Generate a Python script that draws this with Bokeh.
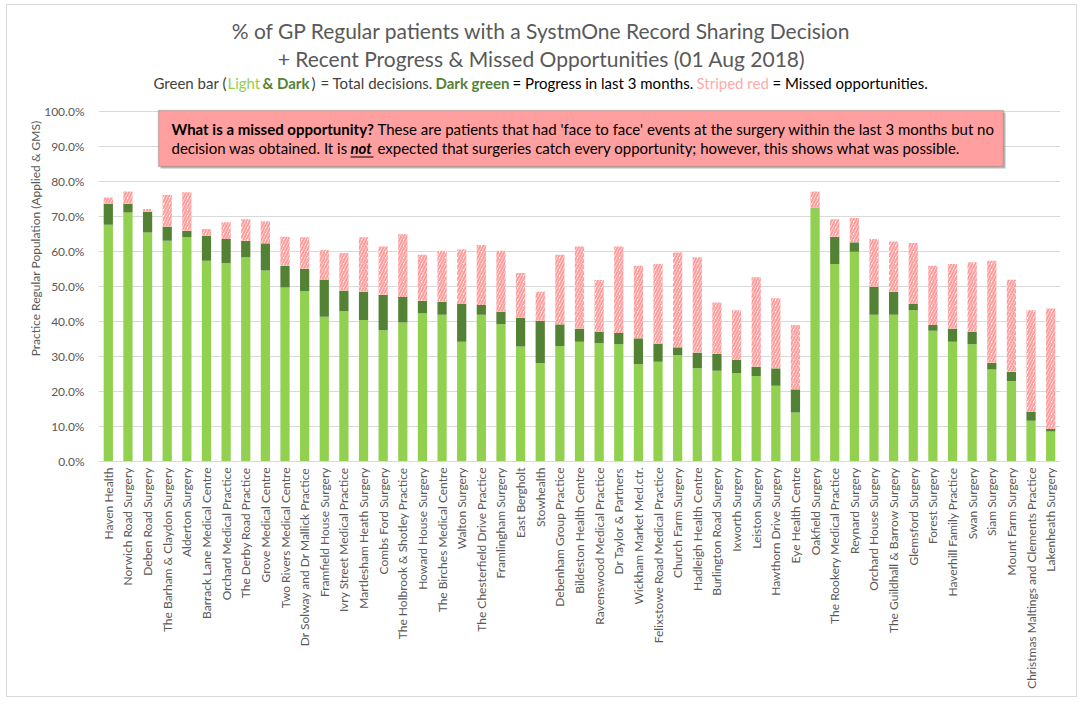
import math
import numpy as np
from bokeh.plotting import figure
from bokeh.models import (Label, BoxAnnotation, Range1d, FactorRange,
                          NumeralTickFormatter, FixedTicker, ColumnDataSource)
from bokeh.embed import file_html
from bokeh.resources import INLINE

# ---------------- data (percent of practice regular population) ----------------
practices = [
    "Haven Health", "Norwich Road Surgery", "Deben Road Surgery",
    "The Barham & Claydon Surgery", "Alderton Surgery", "Barrack Lane Medical Centre",
    "Orchard Medical Practice", "The Derby Road Practice", "Grove Medical Centre",
    "Two Rivers Medical Centre", "Dr Solway and Dr Mallick Practice",
    "Framfield House Surgery", "Ivry Street Medical Practice", "Martlesham Heath Surgery",
    "Combs Ford Surgery", "The Holbrook & Shotley Practice", "Howard House Surgery",
    "The Birches Medical Centre", "Walton Surgery", "The Chesterfield Drive Practice",
    "Framlingham Surgery", "East Bergholt", "Stowhealth", "Debenham Group Practice",
    "Bildeston Health Centre", "Ravenswood Medical Practice", "Dr Taylor & Partners",
    "Wickham Market Med.ctr.", "Felixstowe Road Medical Practice", "Church Farm Surgery",
    "Hadleigh Health Centre", "Burlington Road Surgery", "Ixworth Surgery",
    "Leiston Surgery", "Hawthorn Drive Surgery", "Eye Health Centre", "Oakfield Surgery",
    "The Rookery Medical Practice", "Reynard Surgery", "Orchard House Surgery",
    "The Guildhall & Barrow Surgery", "Glemsford Surgery", "Forest Surgery",
    "Haverhill Family Practice", "Swan Surgery", "Siam Surgery", "Mount Farm Surgery",
    "Christmas Maltings and Clements Practice", "Lakenheath Surgery",
]

# decisions obtained before the last 3 months (light green)
earlier_decisions = [
    67.6, 71.1, 65.4, 63.0, 64.0, 57.3, 56.7, 58.3, 54.5, 49.7, 48.6, 41.3, 42.9,
    40.4, 37.5, 39.7, 42.3, 41.9, 34.2, 41.9, 39.2, 32.8, 28.1, 33.0, 34.2, 33.8,
    33.5, 27.8, 28.5, 30.4, 26.6, 25.9, 25.3, 24.4, 21.6, 14.0, 72.3, 56.4, 59.9,
    41.9, 41.9, 43.2, 37.3, 34.2, 33.5, 26.3, 23.0, 11.6, 8.6,
]
# progress in last 3 months (dark green)
recent_progress = [
    6.1, 2.6, 5.9, 4.1, 1.9, 7.2, 6.8, 4.7, 7.8, 6.2, 6.4, 10.5, 5.9,
    8.1, 10.1, 7.3, 3.6, 3.7, 10.8, 2.8, 3.6, 8.3, 12.1, 6.2, 3.8, 3.3,
    3.2, 7.4, 5.2, 2.2, 4.5, 4.8, 3.7, 2.7, 5.0, 6.6, 0.2, 7.8, 2.7,
    8.1, 6.6, 1.8, 1.7, 3.8, 3.6, 1.9, 2.6, 2.7, 0.7,
]
# missed opportunities (striped red)
missed_opportunities = [
    1.7, 3.4, 0.8, 9.0, 11.0, 1.9, 4.8, 6.2, 6.3, 8.3, 9.0, 8.6, 10.7,
    15.5, 13.8, 17.9, 13.1, 14.6, 15.5, 17.1, 17.4, 12.7, 8.3, 19.8, 23.4, 14.7,
    24.7, 20.7, 22.7, 27.1, 27.2, 14.7, 14.2, 25.5, 20.0, 18.4, 4.6, 5.0, 6.9,
    13.5, 14.3, 17.4, 16.9, 18.4, 19.8, 29.1, 26.3, 28.9, 34.4,
]
y_ticks = [0.0, 0.1, 0.2, 0.3, 0.4, 0.5, 0.6, 0.7, 0.8, 0.9, 1.0]

# ---------------- derived stacks ----------------
e = np.array(earlier_decisions) / 100.0
r = np.array(recent_progress) / 100.0
m = np.array(missed_opportunities) / 100.0
src = ColumnDataSource(dict(x=practices, e_top=e, r_bot=e, r_top=e + r,
                            m_bot=e + r, m_top=e + r + m))

# ---------------- layout constants (reference page pixels) ----------------
ORIGIN_X, ORIGIN_Y = 7, 5          # where the chart's canvas starts on the page
FRAME_L, FRAME_R = 98.0, 1060.0
FRAME_T, FRAME_B = 15.0, 460.7
PX_PER_UNIT = 350.0                # pixels for 0% -> 100%
W, H = 1071, 693

y_max = (FRAME_B - FRAME_T) / PX_PER_UNIT

p = figure(width=W, height=H, x_range=FactorRange(factors=practices, range_padding=0),
           y_range=Range1d(0, y_max), output_backend="svg", toolbar_location=None,
           min_border_left=int(FRAME_L - ORIGIN_X),
           min_border_right=int(W - (FRAME_R - ORIGIN_X)),
           min_border_top=int(FRAME_T - ORIGIN_Y),
           min_border_bottom=int(round(H - (FRAME_B - ORIGIN_Y))))
p.styles = {"border": "1px solid #d9d9d9", "margin-left": "6px", "margin-top": "4px"}
p.outline_line_color = None
p.background_fill_color = "white"
p.border_fill_color = "white"

GRAY = "#595959"
FONT = "Lato"

p.xgrid.grid_line_color = None
p.ygrid.grid_line_color = "#d9d9d9"
p.ygrid.grid_line_width = 1

p.yaxis.ticker = FixedTicker(ticks=y_ticks)
p.yaxis.formatter = NumeralTickFormatter(format="0.0%")
p.yaxis.axis_line_color = None
p.yaxis.major_tick_line_color = None
p.yaxis.minor_tick_line_color = None
p.yaxis.major_tick_out = 0
p.yaxis.major_tick_in = 0
p.yaxis.major_label_standoff = 14
p.yaxis.major_label_text_font = FONT
p.yaxis.major_label_text_font_size = "12px"
p.yaxis.major_label_text_color = GRAY
p.yaxis.axis_label = "Practice Regular Population (Applied & GMS)"
p.yaxis.axis_label_text_font = FONT
p.yaxis.axis_label_text_font_size = "12px"
p.yaxis.axis_label_text_font_style = "normal"
p.yaxis.axis_label_text_color = GRAY
p.yaxis.axis_label_standoff = -2

p.xaxis.axis_line_color = "#d9d9d9"
p.xaxis.major_tick_line_color = None
p.xaxis.minor_tick_line_color = None
p.xaxis.major_tick_out = 0
p.xaxis.major_tick_in = 0
p.xaxis.major_label_orientation = math.pi / 2
p.xaxis.major_label_standoff = 6
p.xaxis.major_label_text_font = FONT
p.xaxis.major_label_text_font_size = "12px"
p.xaxis.major_label_text_color = GRAY

BW = 0.47
p.vbar(x="x", bottom=0, top="e_top", width=BW, source=src,
       fill_color="#92D050", line_color=None)
p.vbar(x="x", bottom="r_bot", top="r_top", width=BW, source=src,
       fill_color="#548235", line_color=None)
p.vbar(x="x", bottom="m_bot", top="m_top", width=BW, source=src,
       fill_color="white", line_color=None, hatch_pattern="/",
       hatch_color="#FF9C9C", hatch_weight=2.2, hatch_scale=6)

# ---------------- helpers: reference-pixel -> frame coordinates ----------------
N = len(practices)
COL = (FRAME_R - FRAME_L) / N


def sx(rx):
    return rx - FRAME_L


def sy(ry):
    return FRAME_B - ry


def dx(rx):
    return (rx - FRAME_L) / COL


def dy(ry):
    return (FRAME_B - ry) / PX_PER_UNIT


def add_text(text, rx, ry, size, color, style="normal", align="left", font=FONT):
    p.add_layout(Label(x=sx(rx), y=sy(ry), x_units="screen", y_units="screen",
                       text=text, text_font=font, text_font_size=size,
                       text_color=color, text_font_style=style, text_align=align,
                       text_baseline="middle"))


# titles
add_text("% of GP Regular patients with a SystmOne Record Sharing Decision",
         541, 30, "21px", GRAY, align="center")
add_text("+ Recent Progress & Missed Opportunities (01 Aug 2018)",
         541, 58, "21px", GRAY, align="center")

# coloured subtitle
SUB = "15px"
add_text("Green bar (", 153, 82, SUB, "#404040")
add_text("Light", 227, 82, SUB, "#92D050")
add_text("& Dark", 262, 82, SUB, "#548235", style="bold")
add_text(")", 311, 82, SUB, "#404040")
add_text("= Total decisions.", 320, 82, SUB, "#404040")
add_text("Dark green", 435, 82, SUB, "#548235", style="bold")
add_text("= Progress in last 3 months.", 512, 82, SUB, "#000000")
add_text("Striped red", 696, 82, SUB, "#FFAAAA")
add_text("= Missed opportunities.", 772, 82, SUB, "#000000")

# annotation box
p.add_layout(BoxAnnotation(left=dx(160), right=dx(1005), top=dy(112), bottom=dy(168),
                           fill_color="#8c8c8c", fill_alpha=0.6, line_color=None))
p.add_layout(BoxAnnotation(left=dx(158), right=dx(1003), top=dy(110), bottom=dy(166),
                           fill_color="#FF9F9F", fill_alpha=1.0,
                           line_color="#6b6b6b", line_width=1.5))
BOX = "15px"
add_text("What is a missed opportunity?", 171, 128, BOX, "#000000", style="bold")
add_text("These are patients that had 'face to face' events at the surgery within the last 3 months but no",
         377, 128, BOX, "#000000")
add_text("decision was obtained. It is", 171, 147, BOX, "#000000")
add_text("not", 350, 147, BOX, "#000000", style="bold italic")
add_text("expected that surgeries catch every opportunity; however, this shows what was possible.",
         377, 147, BOX, "#000000")
p.add_layout(BoxAnnotation(left=dx(350), right=dx(373), top=dy(155.8), bottom=dy(157),
                           fill_color="#000000", fill_alpha=1.0, line_color=None))

open("out.html", "w").write(file_html(p, INLINE))
